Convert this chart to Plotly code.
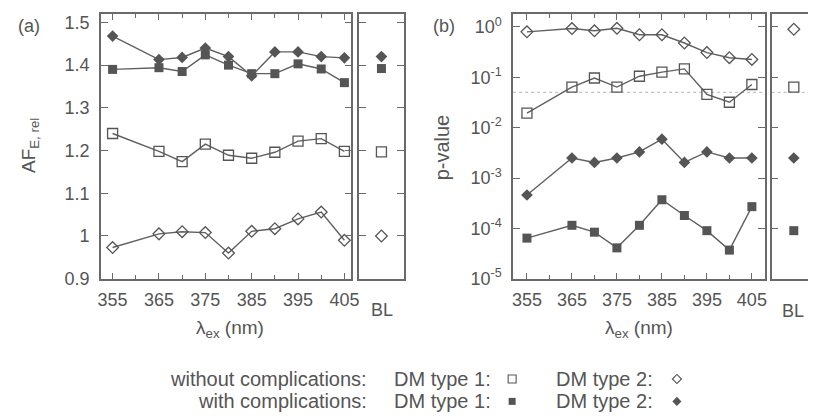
import plotly.graph_objects as go

# ---------------- data ----------------
wavelengths = [355, 365, 370, 375, 380, 385, 390, 395, 400, 405]

# panel (a): relative AF_E
af_wo_dm1 = [1.240, 1.198, 1.174, 1.215, 1.189, 1.182, 1.196, 1.222, 1.228, 1.198]
af_wo_dm2 = [0.973, 1.005, 1.010, 1.008, 0.960, 1.011, 1.017, 1.040, 1.056, 0.990]
af_w_dm1 = [1.390, 1.394, 1.385, 1.424, 1.400, 1.380, 1.380, 1.403, 1.391, 1.359]
af_w_dm2 = [1.468, 1.413, 1.418, 1.440, 1.420, 1.375, 1.431, 1.431, 1.420, 1.417]
af_bl = {"wo_dm1": 1.197, "wo_dm2": 1.000, "w_dm1": 1.392, "w_dm2": 1.420}

# panel (b): p-values
p_wo_dm1 = [0.0195, 0.064, 0.097, 0.064, 0.105, 0.127, 0.147, 0.046, 0.032, 0.072]
p_wo_dm2 = [0.80, 0.93, 0.84, 0.94, 0.70, 0.70, 0.48, 0.31, 0.245, 0.226]
p_w_dm1 = [6.4e-5, 1.15e-4, 8.4e-5, 4.1e-5, 1.15e-4, 3.7e-4, 1.8e-4, 9.0e-5, 3.7e-5, 2.7e-4]
p_w_dm2 = [4.6e-4, 2.5e-3, 2.04e-3, 2.5e-3, 3.3e-3, 5.9e-3, 2.04e-3, 3.3e-3, 2.5e-3, 2.5e-3]
p_bl = {"wo_dm1": 0.064, "wo_dm2": 0.90, "w_dm1": 9.0e-5, "w_dm2": 2.5e-3}
sig_level = 0.05

bl_category = ["BL"]
af_ticks = [0.9, 1.0, 1.1, 1.2, 1.3, 1.4, 1.5]
af_ticktext = ["0.9", "1", "1.1", "1.2", "1.3", "1.4", "1.5"]
p_ticks = [1e-5, 1e-4, 1e-3, 1e-2, 1e-1, 1]
p_ticktext = ["10<sup>-5</sup>", "10<sup>-4</sup>", "10<sup>-3</sup>",
              "10<sup>-2</sup>", "10<sup>-1</sup>", "10<sup>0</sup>"]
x_ticks = [355, 365, 375, 385, 395, 405]

# ---------------- styling ----------------
W, H = 816, 418
FONT = "Liberation Sans, Arial, Helvetica, sans-serif"
TXT = "#555555"
AX = "#6a6a6a"
LINE = "#606060"
MK = "#555555"

def px(x):
    return x / W

def py(y):
    return 1 - y / H

styles = {
    "wo_dm1": dict(symbol="square-open", size=10, color=MK, lw=1.3),
    "wo_dm2": dict(symbol="diamond-open", size=9, color=MK, lw=1.3),
    "w_dm1": dict(symbol="square", size=9, color=MK, lw=0),
    "w_dm2": dict(symbol="diamond", size=9, color=MK, lw=0),
}

fig = go.Figure()

def add_series(x, y, key, xa, ya, lines=True):
    s = styles[key]
    fig.add_trace(go.Scatter(
        x=x, y=y, xaxis=xa, yaxis=ya,
        mode="lines+markers" if lines else "markers",
        line=dict(color=LINE, width=1.4),
        marker=dict(symbol=s["symbol"], size=s["size"], color=s["color"],
                    line=dict(color=s["color"], width=s["lw"] if s["lw"] else 0)),
        showlegend=False, cliponaxis=False, hoverinfo="skip"))

for key, vals in [("wo_dm1", af_wo_dm1), ("wo_dm2", af_wo_dm2), ("w_dm1", af_w_dm1), ("w_dm2", af_w_dm2)]:
    add_series(wavelengths, vals, key, "x", "y")
    add_series(bl_category, [af_bl[key]], key, "x2", "y2", lines=False)

for key, vals in [("wo_dm1", p_wo_dm1), ("wo_dm2", p_wo_dm2), ("w_dm1", p_w_dm1), ("w_dm2", p_w_dm2)]:
    add_series(wavelengths, vals, key, "x3", "y3")
    add_series(bl_category, [p_bl[key]], key, "x4", "y4", lines=False)

# significance level line in (b), both sub-panels
for xr, yr in [("x3 domain", "y3"), ("x4 domain", "y4")]:
    fig.add_shape(type="line", xref=xr, yref=yr, x0=0, x1=1, y0=sig_level, y1=sig_level,
                  line=dict(color="#c4c4c4", width=1.2, dash="dot"), layer="below")

# legend markers on a hidden pixel-space overlay axis
leg_keys = [["wo_dm1", "wo_dm2"], ["w_dm1", "w_dm2"]]
leg_x = [508, 675]
leg_y = [380, 403]
for r, row in enumerate(leg_keys):
    for c, key in enumerate(row):
        s = styles[key]
        fig.add_trace(go.Scatter(
            x=[leg_x[c]], y=[leg_y[r]], xaxis="x9", yaxis="y9", mode="markers",
            marker=dict(symbol=s["symbol"], size=s["size"] - 2, color=s["color"],
                        line=dict(color=s["color"], width=1.1 if s["lw"] else 0)),
            showlegend=False, hoverinfo="skip"))

# ---------------- axes ----------------
dom_y = [py(277), py(5)]
dom_xa = [px(91), px(345)]
dom_xa_bl = [px(353), px(398)]
dom_xb = [px(509), px(764)]
dom_xb_bl = [px(771), 1.0]

tickfont = dict(family=FONT, size=18, color=TXT)

def xaxis_main(domain, rng, anchor):
    return dict(domain=domain, range=rng, anchor=anchor,
                showline=True, linecolor=AX, linewidth=1.5, mirror="ticks",
                ticks="inside", ticklen=6, tickwidth=1.2, tickcolor=AX,
                tickvals=x_ticks, tickfont=tickfont, ticklabelstandoff=4,
                minor=dict(ticks="inside", ticklen=4, tickwidth=1.2, tickcolor=AX, dtick=5, tick0=355),
                showgrid=False, zeroline=False)

def xaxis_bl(domain, anchor):
    return dict(domain=domain, range=[-0.5, 0.5], anchor=anchor, type="category",
                showline=True, linecolor=AX, linewidth=1.5, mirror=True,
                ticks="", showticklabels=False, showgrid=False, zeroline=False)

yaxis_a_common = dict(range=[0.9, 1.52], tickvals=af_ticks, ticktext=af_ticktext,
                      ticks="inside", ticklen=7, tickwidth=1.2, tickcolor=AX,
                      showgrid=False, zeroline=False, tickfont=tickfont)
yaxis_b_common = dict(type="log", range=[-5, 0.26], tickvals=p_ticks, ticktext=p_ticktext,
                      ticks="inside", ticklen=7, tickwidth=1.2, tickcolor=AX,
                      showgrid=False, zeroline=False, tickfont=tickfont)

fig.update_layout(
    width=W, height=H, autosize=False,
    margin=dict(l=0, r=0, t=0, b=0),
    paper_bgcolor="white", plot_bgcolor="rgba(0,0,0,0)",
    font=dict(family=FONT, size=18, color=TXT),
    xaxis=xaxis_main(dom_xa, [352.45, 406.5], "y"),
    xaxis2=xaxis_bl(dom_xa_bl, "y2"),
    xaxis3=xaxis_main(dom_xb, [351.93, 407.85], "y3"),
    xaxis4=xaxis_bl(dom_xb_bl, "y4"),
    yaxis=dict(domain=dom_y, anchor="x", showline=True, linecolor=AX, linewidth=1.5,
               mirror="ticks", ticklabelstandoff=6, **yaxis_a_common),
    yaxis2=dict(domain=dom_y, anchor="x2", showline=True, linecolor=AX, linewidth=1.5,
                mirror="ticks", showticklabels=False, **yaxis_a_common),
    yaxis3=dict(domain=dom_y, anchor="x3", showline=True, linecolor=AX, linewidth=1.5,
                mirror="ticks", ticklabelstandoff=6, **yaxis_b_common),
    yaxis4=dict(domain=dom_y, anchor="x4", showline=True, linecolor=AX, linewidth=1.5,
                mirror="ticks", showticklabels=False, **yaxis_b_common),
    xaxis9=dict(domain=[0, 1], range=[0, W], visible=False, anchor="y9", fixedrange=True),
    yaxis9=dict(domain=[0, 1], range=[H, 0], visible=False, anchor="x9", fixedrange=True),
)

def ann(text, x, y, xanchor="center", yanchor="middle", size=18, angle=0):
    fig.add_annotation(text=text, x=px(x), y=py(y), xref="paper", yref="paper",
                       xanchor=xanchor, yanchor=yanchor, showarrow=False, textangle=angle,
                       borderpad=0, font=dict(family=FONT, size=size, color=TXT))

ann("(a)", 6, 17, xanchor="left")
ann("(b)", 427, 17, xanchor="left")
ann("AF<sub>E, rel</sub>", 20, 140, angle=-90, size=19)
ann("p-value", 437, 142, angle=-90, size=20)
ann("λ<sub>ex</sub> (nm)", 222, 329, size=19)
ann("λ<sub>ex</sub> (nm)", 637, 329, size=19)
ann("BL", 376, 309)
ann("BL", 793, 310)
ann("without complications:", 362, 380, xanchor="right", size=20)
ann("with complications:", 362, 403, xanchor="right", size=20)
ann("DM type 1:", 387, 380, xanchor="left", size=20)
ann("DM type 1:", 387, 403, xanchor="left", size=20)
ann("DM type 2:", 551, 380, xanchor="left", size=20)
ann("DM type 2:", 551, 403, xanchor="left", size=20)

fig.write_html("out.html")
